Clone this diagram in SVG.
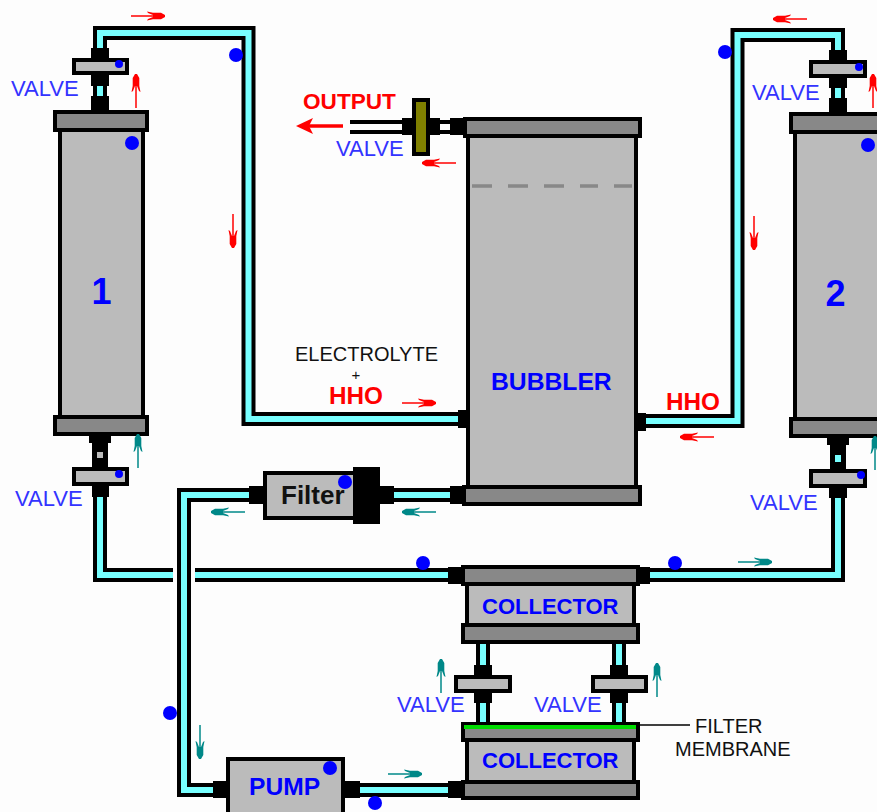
<svg xmlns="http://www.w3.org/2000/svg" width="877" height="812" viewBox="0 0 877 812">
<style>
text{font-family:"Liberation Sans",Arial,sans-serif}
.po{fill:none;stroke:#000;stroke-width:14}
.pi{fill:none;stroke:#7ff;stroke-width:6}
.pw{fill:none;stroke:#fff;stroke-width:6}
.b{fill:#000}
.g{fill:#bbb;stroke:#000;stroke-width:4}
.d{fill:#888;stroke:#000;stroke-width:4}
.v{fill:#33f;font-size:22px}
.bl{fill:#00f;font-weight:bold}
.r{fill:#f00;font-weight:bold}
.k{fill:#111;font-size:20px}
.dot{fill:#00f}
.red{color:#f00}
.teal{color:#088}
</style>
<defs>
<g id="arw">
<path d="M0 0H33" stroke="currentColor" stroke-width="1.500" fill="none"/>
<path d="M16 -4.500L22 -3.300H30L34 -1V1L30 3.300H22L16 4.500L17 3L22 1V-1L17 -3Z" fill="currentColor"/>
</g>
</defs>
<rect width="877" height="812" fill="#fdfdfd"/>
<g id="connectors">
<path class="po" d="M100 96V33H248.5V419H460"/><path class="pi" d="M100 96V33H248.5V419H460"/>
<path class="po" d="M838 98V35H737.5V421H640"/><path class="pi" d="M838 98V35H737.5V421H640"/>
<path class="po" d="M100 490V575H173"/><path class="pi" d="M100 490V575H173"/>
<path class="po" d="M195 575H450"/><path class="pi" d="M195 575H450"/>
<path class="po" d="M640 575H838V490"/><path class="pi" d="M640 575H838V490"/>
<path class="po" d="M254 495H184V790H220"/><path class="pi" d="M254 495H184V790H220"/>
<path class="po" d="M390 495H455"/><path class="pi" d="M390 495H455"/>
<path class="po" d="M355 790H452"/><path class="pi" d="M355 790H452"/>
<path class="po" d="M483 642V724"/><path class="pi" d="M483 642V724"/>
<path class="po" d="M619 642V724"/><path class="pi" d="M619 642V724"/>
<path class="po" d="M350 127H456"/><path class="pw" d="M350 127H456"/>
<path d="M640 725H690" stroke="#000" stroke-width="1.5" fill="none"/>
</g>
<g id="cell1">
<rect class="g" x="60" y="128" width="83" height="290"/>
<rect class="d" x="55" y="112" width="92" height="18"/>
<rect class="d" x="55" y="417" width="92" height="17"/>
<text class="bl" x="101.500" y="304" font-size="36" text-anchor="middle">1</text>
<circle class="dot" cx="132" cy="143" r="7"/>
<rect class="b" x="91" y="96" width="18" height="15"/>
<path class="b" d="M89 436H111V443H108V452H92V443H89Z"/>
<rect fill="#bbb" x="97" y="452" width="6" height="6"/>
<path class="b" d="M92 452H97V458H103V452H108V468H92Z"/>
</g>
<g id="cell2">
<rect class="g" x="795" y="130" width="90" height="290"/>
<rect class="d" x="791" y="114" width="92" height="18"/>
<rect class="d" x="791" y="419" width="92" height="17"/>
<text class="bl" x="835.500" y="306" font-size="36" text-anchor="middle">2</text>
<circle class="dot" cx="868" cy="145" r="7"/>
<rect class="b" x="829" y="98" width="18" height="15"/>
<path class="b" d="M827 438H849V445H846V455H830V445H827Z"/>
<rect fill="#7ff" x="835" y="455" width="6" height="7"/>
<path class="b" d="M830 455H835V462H841V455H846V470H830Z"/>
</g>
<g id="valve-1-top">
<rect class="b" x="91" y="48" width="18" height="12"/>
<path class="b" d="M91 74H109V86H107V96H103V86H97V96H93V86H91Z"/>
<rect class="g" x="74" y="60" width="53" height="13"/>
<circle class="dot" cx="119" cy="64" r="4"/>
<text class="v" x="11" y="96">VALVE</text>
</g>
<g id="valve-1-bottom">
<rect class="b" x="92" y="484" width="17" height="13"/>
<rect class="g" x="74" y="469" width="53" height="15"/>
<circle class="dot" cx="119" cy="474" r="4"/>
<text class="v" x="15" y="506">VALVE</text>
</g>
<g id="valve-2-top">
<rect class="b" x="829" y="50" width="18" height="12"/>
<path class="b" d="M829 76H847V88H845V98H841V88H835V98H831V88H829Z"/>
<rect class="g" x="811" y="62" width="54" height="14"/>
<circle class="dot" cx="859" cy="67" r="4"/>
<text class="v" x="752" y="100">VALVE</text>
</g>
<g id="valve-2-bottom">
<rect class="b" x="829" y="486" width="18" height="12"/>
<rect class="g" x="811" y="471" width="54" height="15"/>
<circle class="dot" cx="861" cy="475" r="4"/>
<text class="v" x="750" y="510">VALVE</text>
</g>
<g id="bubbler">
<rect class="g" x="468" y="134" width="168" height="354"/>
<rect class="d" x="465" y="119" width="175" height="17"/>
<rect class="d" x="464" y="487" width="176" height="17"/>
<path d="M472 186H492M508 186H528M544 186H564M580 186H598M614 186H632" stroke="#888" stroke-width="3.500" fill="none"/>
<rect class="b" x="450" y="118" width="14" height="17"/>
<rect class="b" x="458" y="410" width="9" height="18"/>
<rect class="b" x="636" y="413" width="10" height="18"/>
<rect class="b" x="450" y="486" width="13" height="18"/>
<text class="bl" x="491" y="390" font-size="24.700">BUBBLER</text>
</g>
<g id="output-valve">
<rect class="b" x="402" y="118" width="38" height="17"/>
<rect x="414" y="100" width="14" height="54" fill="#808000" stroke="#000" stroke-width="4"/>
<text class="v" x="336" y="156">VALVE</text>
<text class="r" x="303" y="109" font-size="22.600">OUTPUT</text>
</g>
<g id="filter">
<rect class="g" x="265" y="473" width="90" height="45"/>
<rect class="b" x="353" y="467" width="27" height="57"/>
<rect class="b" x="249" y="486" width="14" height="18"/>
<rect class="b" x="380" y="486" width="14" height="18"/>
<text x="281" y="504" font-size="26" font-weight="bold" fill="#111">Filter</text>
<circle class="dot" cx="345" cy="482" r="7"/>
</g>
<g id="collector-top">
<rect class="g" x="467" y="584" width="167" height="42"/>
<rect class="d" x="463" y="567" width="175" height="17"/>
<rect class="d" x="463" y="625" width="175" height="17"/>
<rect class="b" x="448" y="567" width="14" height="17"/>
<rect class="b" x="639" y="567" width="11" height="17"/>
<text class="bl" x="482" y="614" font-size="22">COLLECTOR</text>
</g>
<g id="valve-3">
<rect class="b" x="474" y="665" width="18" height="38"/>
<rect class="g" x="456" y="677" width="54" height="14"/>
<text class="v" x="397" y="712">VALVE</text>
</g>
<g id="valve-4">
<rect class="b" x="610" y="665" width="18" height="38"/>
<rect class="g" x="593" y="677" width="53" height="14"/>
<text class="v" x="534" y="712">VALVE</text>
</g>
<g id="collector-bottom">
<rect class="g" x="467" y="740" width="167" height="42"/>
<rect class="d" x="463" y="724" width="175" height="16"/>
<rect x="464" y="725" width="172" height="4" fill="#0d0"/>
<rect class="d" x="463" y="782" width="175" height="16"/>
<rect class="b" x="448" y="781" width="14" height="17"/>
<text class="bl" x="482" y="768" font-size="22">COLLECTOR</text>
</g>
<g id="pump">
<rect class="g" x="228" y="759" width="115" height="60"/>
<rect class="b" x="213" y="781" width="14" height="17"/>
<rect class="b" x="344" y="781" width="16" height="17"/>
<text class="bl" x="249" y="795" font-size="24.600">PUMP</text>
<circle class="dot" cx="330" cy="768" r="7"/>
</g>
<g id="labels">
<text class="k" x="295" y="361">ELECTROLYTE</text>
<text class="k" x="356" y="380" text-anchor="middle" font-size="15" style="font-size:15px">+</text>
<text class="r" x="329" y="404" font-size="24.300">HHO</text>
<text class="r" x="666" y="410" font-size="24.300">HHO</text>
<text class="k" x="695" y="733">FILTER</text>
<text class="k" x="675" y="756">MEMBRANE</text>
</g>
<g id="dots">
<circle class="dot" cx="236" cy="55" r="7"/>
<circle class="dot" cx="725" cy="52" r="7"/>
<circle class="dot" cx="423" cy="563" r="7"/>
<circle class="dot" cx="675" cy="563" r="7"/>
<circle class="dot" cx="170" cy="713" r="7"/>
<circle class="dot" cx="375" cy="803" r="7"/>
</g>
<g id="arrows">
<g class="red">
<use href="#arw" transform="translate(131 16)"/>
<use href="#arw" transform="translate(136 108) rotate(-90)"/>
<use href="#arw" transform="translate(233 214) rotate(90)"/>
<use href="#arw" transform="translate(456 163) rotate(180)"/>
<use href="#arw" transform="translate(402 403)"/>
<use href="#arw" transform="translate(714 437) rotate(180)"/>
<use href="#arw" transform="translate(807 19) rotate(180)"/>
<use href="#arw" transform="translate(873 108) rotate(-90)"/>
<use href="#arw" transform="translate(754 216) rotate(90)"/>
<path d="M343 126H305" stroke="#f00" stroke-width="3.500" fill="none"/>
<path d="M296 126L313 118L309 126L313 134Z" fill="#f00"/>
</g>
<g class="teal">
<use href="#arw" transform="translate(138 468) rotate(-90)"/>
<use href="#arw" transform="translate(245 512) rotate(180)"/>
<use href="#arw" transform="translate(436 512) rotate(180)"/>
<use href="#arw" transform="translate(738 562)"/>
<use href="#arw" transform="translate(875 470) rotate(-90)"/>
<use href="#arw" transform="translate(441 693) rotate(-90)"/>
<use href="#arw" transform="translate(657 697) rotate(-90)"/>
<use href="#arw" transform="translate(388 774)"/>
<use href="#arw" transform="translate(200 725) rotate(90)"/>
</g>
</g>
</svg>
